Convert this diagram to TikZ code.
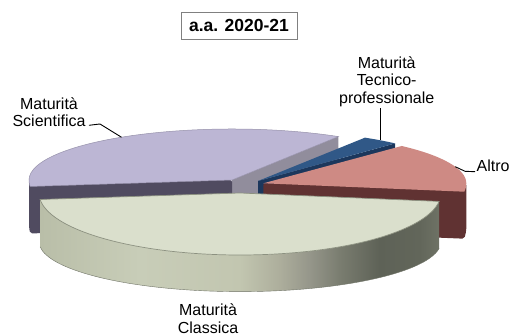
\documentclass[tikz,border=0pt]{standalone}
\usepackage{fontspec}
\setmainfont{Liberation Sans}
\definecolor{sciTop}{RGB}{188,182,212}
\definecolor{sciEdge}{RGB}{150,145,170}
\definecolor{sciDark}{RGB}{80,75,96}
\definecolor{sciGray}{RGB}{145,141,156}
\definecolor{tecTop}{RGB}{48,88,135}
\definecolor{tecDark}{RGB}{28,55,92}
\definecolor{altTop}{RGB}{206,138,132}
\definecolor{altDark}{RGB}{96,50,50}
\definecolor{claTop}{RGB}{218,223,204}
\definecolor{claEdge}{RGB}{140,145,128}
\definecolor{csA}{RGB}{185,190,168}
\definecolor{csB}{RGB}{200,205,184}
\definecolor{csC}{RGB}{194,198,176}
\definecolor{csD}{RGB}{173,174,156}
\definecolor{csE}{RGB}{149,150,138}
\definecolor{csF}{RGB}{122,125,112}
\definecolor{csG}{RGB}{94,98,87}
\definecolor{csH}{RGB}{98,102,90}
\definecolor{csI}{RGB}{110,114,101}
\definecolor{boxEdge}{RGB}{128,128,128}
\pgfdeclarehorizontalshading{claside}{100bp}{color(0bp)=(csA); color(25bp)=(csA); color(37.5bp)=(csB); color(50bp)=(csC); color(55bp)=(csD); color(58.8bp)=(csE); color(62.5bp)=(csF); color(67.5bp)=(csG); color(72.5bp)=(csH); color(75bp)=(csI); color(100bp)=(csI)}
\tikzset{
  lbl/.style={font=\fontsize{16}{17.5}\selectfont, align=center, inner sep=0pt},
  leader/.style={draw=black, line width=0.9pt},
  titlebox/.style={draw=boxEdge, line width=0.8pt, font=\fontsize{17.5}{20}\selectfont\bfseries, minimum width=116pt, minimum height=27pt, inner sep=0pt}
}
\begin{document}
\begin{tikzpicture}[x=1pt,y=1pt]
\useasboundingbox (0,0) rectangle (510,336);
% ---- Maturita Scientifica
\coordinate (cS) at (232,156);
\coordinate (cSb) at (232,109);
\path (cS) ++(58.4:203 and 51) coordinate (sR);
\path (sR) ++(0,-47) coordinate (sRb);
\path (cS) ++(-203,0) coordinate (sLm);
\path (cS) ++(186:203 and 62) coordinate (sL);
\path (sLm) ++(0,-47) coordinate (sLmb);
\path (sL) ++(0,-47) coordinate (sLb);
\fill[sciGray] (cS) -- (sR) -- (sRb) -- (cSb) -- cycle;
\fill[sciDark, rounded corners=2pt] (cS) -- (sLm) -- (sLmb) -- (sLb) -- (cSb) -- cycle;
\filldraw[fill=sciTop, draw=sciEdge, line width=0.5pt] (cS) -- (sR) arc[start angle=58.4, end angle=180, x radius=203, y radius=51] arc[start angle=180, end angle=186, x radius=203, y radius=62] -- cycle;
% ---- Maturita Tecnico-professionale
\coordinate (cT) at (258,155);
\coordinate (cTb) at (258,108);
\path (cT) ++(47.5:203 and 51) coordinate (tA);
\path (tA) ++(0,-47) coordinate (tAb);
\fill[tecDark] (cT) -- (tA) -- (tAb) -- (cTb) -- cycle;
\fill[tecTop] (cT) -- (tA) arc[start angle=47.5, end angle=58.2, x radius=203, y radius=51] -- cycle;
% ---- Altro
\coordinate (cA) at (263.3,152.7);
\coordinate (cAb) at (263.3,105.7);
\path (cA) ++(203,0) coordinate (aRm);
\path (cA) ++(-7.8:203 and 62) coordinate (aR);
\path (aRm) ++(0,-47) coordinate (aRmb);
\path (aR) ++(0,-47) coordinate (aRb);
\fill[altDark, rounded corners=2pt] (cA) -- (aRm) -- (aRmb) -- (aRb) -- (cAb) -- cycle;
\fill[altTop] (cA) -- (aR) arc[start angle=-7.8, end angle=0, x radius=203, y radius=62] arc[start angle=0, end angle=47, x radius=203, y radius=51] -- cycle;
% ---- Maturita Classica
\coordinate (cC) at (240,143);
\path (cC) ++(186:201 and 62) coordinate (cL);
\path (cC) ++(352.2:201 and 62) coordinate (cR);
\path (cR) ++(0,-47) coordinate (cRb);
\shade[shading=claside] (cL) arc[start angle=186, end angle=352.2, x radius=201, y radius=62] -- (cRb) arc[start angle=352.2, end angle=186, x radius=201, y radius=50] -- cycle;
\draw[claEdge!80!black, line width=0.4pt] (cRb) arc[start angle=352.2, end angle=186, x radius=201, y radius=50];
\filldraw[fill=claTop, draw=claEdge, line width=0.7pt] (cC) -- (cL) arc[start angle=186, end angle=352.2, x radius=201, y radius=62] -- cycle;
% ---- title
\node[titlebox] (title) at (239,310.5) {a.a. 2020-21};
% ---- labels
\node[lbl, anchor=base] (sciLbl) at (49,209.3) {Maturità\\Scientifica};
\node[lbl, anchor=base] (tecLbl) at (386.7,232.7) {Maturità\\Tecnico-\\professionale};
\node[lbl, anchor=base west] (altLbl) at (476.5,164.3) {Altro};
\node[lbl, anchor=base] (claLbl) at (208,2.7) {Maturità\\Classica};
% ---- leaders
\coordinate (sl1) at (89,210.7);
\coordinate (sl2) at (100,212);
\path (cS) ++(123:203 and 51) coordinate (sl3);
\draw[leader] (sl1) -- (sl2) -- (sl3);
\coordinate (tl1) at (380,227.7);
\path (cT) ++(53:203 and 51) coordinate (tl2);
\draw[leader] (tl1) -- (tl1 |- tl2);
\coordinate (al1) at (475,164.3);
\coordinate (al2) at (465,164.7);
\path (cA) ++(19:203 and 51) coordinate (al3);
\draw[leader] (al1) -- (al2) -- (al3);
\end{tikzpicture}
\end{document}
